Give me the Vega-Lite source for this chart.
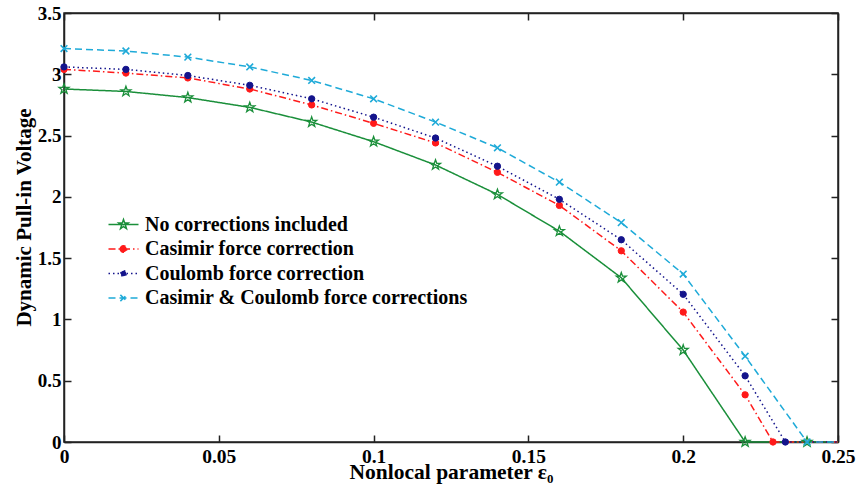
{
  "$schema": "https://vega.github.io/schema/vega-lite/v6.json",
  "width": 774,
  "height": 429,
  "autosize": {"type": "none"},
  "padding": {"left": 64, "top": 13, "right": 21, "bottom": 50},
  "background": "white",
  "config": {
    "view": {"stroke": "#222", "strokeWidth": 1.5},
    "font": "Liberation Serif"
  },
  "data": {
    "values": [
      {"e": 0, "v": 2.88, "s": "No corrections included"},
      {"e": 0.02, "v": 2.86, "s": "No corrections included"},
      {"e": 0.04, "v": 2.81, "s": "No corrections included"},
      {"e": 0.06, "v": 2.73, "s": "No corrections included"},
      {"e": 0.08, "v": 2.61, "s": "No corrections included"},
      {"e": 0.1, "v": 2.45, "s": "No corrections included"},
      {"e": 0.12, "v": 2.26, "s": "No corrections included"},
      {"e": 0.14, "v": 2.02, "s": "No corrections included"},
      {"e": 0.16, "v": 1.72, "s": "No corrections included"},
      {"e": 0.18, "v": 1.34, "s": "No corrections included"},
      {"e": 0.2, "v": 0.75, "s": "No corrections included"},
      {"e": 0.22, "v": 0, "s": "No corrections included"},
      {"e": 0.24, "v": 0, "s": "No corrections included"},
      {"e": 0.25, "v": 0, "s": "No corrections included"},
      {"e": 0, "v": 3.04, "s": "Casimir force correction"},
      {"e": 0.02, "v": 3.01, "s": "Casimir force correction"},
      {"e": 0.04, "v": 2.97, "s": "Casimir force correction"},
      {"e": 0.06, "v": 2.88, "s": "Casimir force correction"},
      {"e": 0.08, "v": 2.75, "s": "Casimir force correction"},
      {"e": 0.1, "v": 2.6, "s": "Casimir force correction"},
      {"e": 0.12, "v": 2.44, "s": "Casimir force correction"},
      {"e": 0.14, "v": 2.2, "s": "Casimir force correction"},
      {"e": 0.16, "v": 1.93, "s": "Casimir force correction"},
      {"e": 0.18, "v": 1.56, "s": "Casimir force correction"},
      {"e": 0.2, "v": 1.06, "s": "Casimir force correction"},
      {"e": 0.22, "v": 0.385, "s": "Casimir force correction"},
      {"e": 0.229, "v": 0, "s": "Casimir force correction"},
      {"e": 0.25, "v": 0, "s": "Casimir force correction"},
      {"e": 0, "v": 3.06, "s": "Coulomb force correction"},
      {"e": 0.02, "v": 3.04, "s": "Coulomb force correction"},
      {"e": 0.04, "v": 2.99, "s": "Coulomb force correction"},
      {"e": 0.06, "v": 2.91, "s": "Coulomb force correction"},
      {"e": 0.08, "v": 2.8, "s": "Coulomb force correction"},
      {"e": 0.1, "v": 2.65, "s": "Coulomb force correction"},
      {"e": 0.12, "v": 2.48, "s": "Coulomb force correction"},
      {"e": 0.14, "v": 2.25, "s": "Coulomb force correction"},
      {"e": 0.16, "v": 1.98, "s": "Coulomb force correction"},
      {"e": 0.18, "v": 1.65, "s": "Coulomb force correction"},
      {"e": 0.2, "v": 1.205, "s": "Coulomb force correction"},
      {"e": 0.22, "v": 0.54, "s": "Coulomb force correction"},
      {"e": 0.233, "v": 0, "s": "Coulomb force correction"},
      {"e": 0.25, "v": 0, "s": "Coulomb force correction"},
      {"e": 0, "v": 3.21, "s": "Casimir & Coulomb force corrections"},
      {"e": 0.02, "v": 3.19, "s": "Casimir & Coulomb force corrections"},
      {"e": 0.04, "v": 3.14, "s": "Casimir & Coulomb force corrections"},
      {"e": 0.06, "v": 3.06, "s": "Casimir & Coulomb force corrections"},
      {"e": 0.08, "v": 2.95, "s": "Casimir & Coulomb force corrections"},
      {"e": 0.1, "v": 2.8, "s": "Casimir & Coulomb force corrections"},
      {"e": 0.12, "v": 2.61, "s": "Casimir & Coulomb force corrections"},
      {"e": 0.14, "v": 2.4, "s": "Casimir & Coulomb force corrections"},
      {"e": 0.16, "v": 2.12, "s": "Casimir & Coulomb force corrections"},
      {"e": 0.18, "v": 1.79, "s": "Casimir & Coulomb force corrections"},
      {"e": 0.2, "v": 1.37, "s": "Casimir & Coulomb force corrections"},
      {"e": 0.22, "v": 0.7, "s": "Casimir & Coulomb force corrections"},
      {"e": 0.24, "v": 0, "s": "Casimir & Coulomb force corrections"},
      {"e": 0.25, "v": 0, "s": "Casimir & Coulomb force corrections"}
    ]
  },
  "resolve": {"axis": {"x": "independent", "y": "independent"}},
  "layer": [
    {
      "mark": {"type": "line", "strokeWidth": 1.5},
      "encoding": {
        "x": {
          "field": "e", "type": "quantitative",
          "scale": {"domain": [0, 0.25], "nice": false, "zero": false},
          "axis": {
            "values": [0, 0.05, 0.1, 0.15, 0.2, 0.25],
            "labelExpr": "datum.value + ''",
            "title": "Nonlocal parameter ε₀",
            "titleFont": "Liberation Serif", "titleFontSize": 21.5, "titleFontWeight": "bold", "titleColor": "black",
            "labelFont": "Liberation Serif", "labelFontSize": 19.5, "labelFontWeight": "bold", "labelColor": "black",
            "ticks": false,
            "domainColor": "#222", "domainWidth": 1.5, "grid": false,
            "labelPadding": 5, "titlePadding": -4, "labelFlush": false, "labelOverlap": false
          }
        },
        "y": {
          "field": "v", "type": "quantitative",
          "scale": {"domain": [0, 3.5], "nice": false, "zero": false},
          "axis": {
            "values": [0, 0.5, 1, 1.5, 2, 2.5, 3, 3.5],
            "labelExpr": "datum.value + ''",
            "title": "Dynamic Pull-in Voltage",
            "titleFont": "Liberation Serif", "titleFontSize": 21, "titleFontWeight": "bold", "titleColor": "black",
            "labelFont": "Liberation Serif", "labelFontSize": 19, "labelFontWeight": "bold", "labelColor": "black",
            "ticks": false,
            "domainColor": "#222", "domainWidth": 1.5, "grid": false,
            "labelPadding": 3, "titlePadding": 3, "titleY": 204, "labelFlush": false, "labelOverlap": false
          }
        },
        "stroke": {
          "field": "s", "type": "nominal",
          "scale": {
            "domain": ["No corrections included", "Casimir force correction", "Coulomb force correction", "Casimir & Coulomb force corrections"],
            "range": ["#1a8f3a", "#ff1a1a", "#14148c", "#1eaad8"]
          }
        },
        "strokeDash": {
          "field": "s", "type": "nominal",
          "scale": {
            "domain": ["No corrections included", "Casimir force correction", "Coulomb force correction", "Casimir & Coulomb force corrections"],
            "range": [[1, 0], [7, 3, 1.5, 3], [1.5, 3], [7, 4]]
          }
        }
      }
    },
    {
      "transform": [{"filter": "datum.e < 0.25 && datum.s == 'No corrections included'"}],
      "mark": {"type": "point", "shape": "M0,-1L0.235,-0.324L0.951,-0.309L0.38,0.124L0.588,0.809L0,0.4L-0.588,0.809L-0.38,0.124L-0.951,-0.309L-0.235,-0.324Z", "size": 110, "strokeWidth": 1.3, "opacity": 1},
      "encoding": {
        "x": {"field": "e", "type": "quantitative", "axis": null},
        "y": {"field": "v", "type": "quantitative", "axis": null},
        "stroke": {"field": "s", "type": "nominal"},
        "fill": {
          "field": "s", "type": "nominal",
          "scale": {
            "domain": ["No corrections included", "Casimir force correction", "Coulomb force correction", "Casimir & Coulomb force corrections"],
            "range": ["transparent", "#ff1a1a", "#14148c", "transparent"]
          }
        }
      }
    },
    {
      "transform": [{"filter": "datum.e < 0.25 && (datum.s == 'Casimir force correction' || datum.s == 'Coulomb force correction')"}],
      "mark": {"type": "point", "shape": "circle", "size": 40, "strokeWidth": 1, "opacity": 1},
      "encoding": {
        "x": {"field": "e", "type": "quantitative", "axis": null},
        "y": {"field": "v", "type": "quantitative", "axis": null},
        "stroke": {"field": "s", "type": "nominal"},
        "fill": {"field": "s", "type": "nominal"}
      }
    },
    {
      "transform": [{"filter": "datum.e < 0.25 && datum.s == 'Casimir & Coulomb force corrections'"}],
      "mark": {"type": "point", "shape": "M-1,-1L1,1M-1,1L1,-1", "size": 45, "strokeWidth": 1.6, "opacity": 1},
      "encoding": {
        "x": {"field": "e", "type": "quantitative", "axis": null},
        "y": {"field": "v", "type": "quantitative", "axis": null},
        "stroke": {"field": "s", "type": "nominal"},
        "fill": {"field": "s", "type": "nominal"}
      }
    },
    {
      "transform": [{"filter": "false"}],
      "mark": {"type": "point", "opacity": 1, "strokeWidth": 1.5},
      "encoding": {
        "shape": {
          "field": "s", "type": "nominal",
          "scale": {
            "domain": ["No corrections included", "Casimir force correction", "Coulomb force correction", "Casimir & Coulomb force corrections"],
            "range": [
              "M-1.2,0H1.2M0,-0.4L0.094,-0.13L0.38,-0.124L0.152,0.05L0.235,0.324L0,0.16L-0.235,0.324L-0.152,0.05L-0.38,-0.124L-0.094,-0.13Z",
              "M-1.2,0H1.2M-0.26,0A0.26,0.26,0,1,1,0.26,0A0.26,0.26,0,1,1,-0.26,0Z",
              "M-1.2,0H1.2M-0.22,0A0.22,0.22,0,1,1,0.22,0A0.22,0.22,0,1,1,-0.22,0Z",
              "M-1.2,0H1.2M-0.25,-0.25L0.25,0.25M-0.25,0.25L0.25,-0.25"
            ]
          },
          "legend": {
            "title": null, "orient": "none", "legendX": 46, "legendY": 198,
            "labelFont": "Liberation Serif", "labelFontSize": 20, "labelFontWeight": "bold", "labelColor": "black",
            "symbolSize": 625, "symbolStrokeWidth": 1.5, "labelOffset": 8, "rowPadding": 0.5, "labelLimit": 500
          }
        },
        "stroke": {
          "field": "s", "type": "nominal",
          "legend": {
            "title": null, "orient": "none", "legendX": 46, "legendY": 198,
            "labelFont": "Liberation Serif", "labelFontSize": 20, "labelFontWeight": "bold", "labelColor": "black",
            "symbolSize": 625, "symbolStrokeWidth": 1.5, "labelOffset": 8, "rowPadding": 0.5, "labelLimit": 500
          }
        },
        "fill": {
          "field": "s", "type": "nominal",
          "legend": {
            "title": null, "orient": "none", "legendX": 46, "legendY": 198,
            "labelFont": "Liberation Serif", "labelFontSize": 20, "labelFontWeight": "bold", "labelColor": "black",
            "symbolSize": 625, "symbolStrokeWidth": 1.5, "labelOffset": 8, "rowPadding": 0.5, "labelLimit": 500
          }
        },
        "strokeDash": {
          "field": "s", "type": "nominal",
          "legend": {
            "title": null, "orient": "none", "legendX": 46, "legendY": 198,
            "labelFont": "Liberation Serif", "labelFontSize": 20, "labelFontWeight": "bold", "labelColor": "black",
            "symbolSize": 625, "symbolStrokeWidth": 1.5, "labelOffset": 8, "rowPadding": 0.5, "labelLimit": 500
          }
        }
      }
    },
    {
      "transform": [{"filter": "false"}],
      "mark": {"type": "point", "opacity": 0},
      "encoding": {
        "x": {
          "field": "e", "type": "quantitative",
          "axis": {"orient": "top", "values": [0, 0.05, 0.1, 0.15, 0.2, 0.25], "labels": false, "title": null, "tickSize": -7, "tickColor": "#222", "tickWidth": 1.5, "domainColor": "#222", "domainWidth": 1.5, "grid": false}
        },
        "y": {
          "field": "v", "type": "quantitative",
          "axis": {"orient": "right", "values": [0, 0.5, 1, 1.5, 2, 2.5, 3, 3.5], "labels": false, "title": null, "tickSize": -7, "tickColor": "#222", "tickWidth": 1.5, "domainColor": "#222", "domainWidth": 1.5, "grid": false}
        }
      }
    },
    {
      "transform": [{"filter": "false"}],
      "mark": {"type": "point", "opacity": 0},
      "encoding": {
        "x": {
          "field": "e", "type": "quantitative",
          "axis": {"orient": "bottom", "values": [0, 0.05, 0.1, 0.15, 0.2, 0.25], "labels": false, "title": null, "domain": false, "tickSize": -7, "tickColor": "#222", "tickWidth": 1.5, "grid": false}
        },
        "y": {
          "field": "v", "type": "quantitative",
          "axis": {"orient": "left", "values": [0, 0.5, 1, 1.5, 2, 2.5, 3, 3.5], "labels": false, "title": null, "domain": false, "tickSize": -7, "tickColor": "#222", "tickWidth": 1.5, "grid": false}
        }
      }
    }
  ]
}
